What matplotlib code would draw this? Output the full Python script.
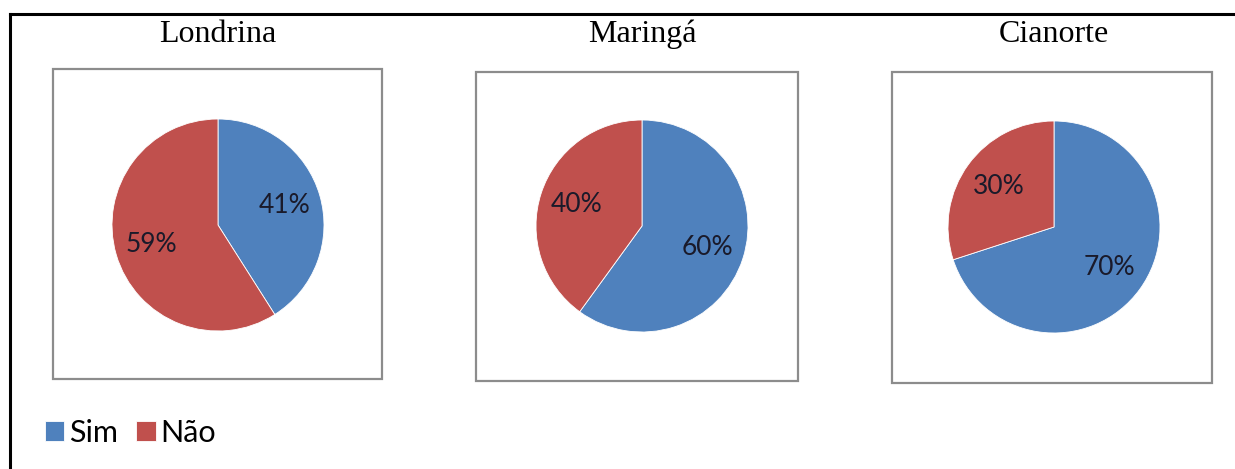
import matplotlib.pyplot as plt
from matplotlib.patches import Rectangle
from matplotlib.lines import Line2D

# dados
cidades = ['Londrina', 'Maringá', 'Cianorte']
rotulos = ['Sim', 'Não']
sim = [41, 60, 70]
nao = [59, 40, 30]
cores = ['#4F81BD', '#C0504D']

W, H = 1235, 469
fig = plt.figure(figsize=(W / 100, H / 100), dpi=100)
fig.patch.set_facecolor('white')

def fx(x):
    return x / W

def fy(y):
    return 1 - y / H

# moldura preta (esquerda e topo)
fig.add_artist(Line2D([fx(10), fx(10)], [fy(14), 0], color='black', lw=2.2, transform=fig.transFigure))
fig.add_artist(Line2D([fx(10), 1], [fy(14), fy(14)], color='black', lw=2.2, transform=fig.transFigure))

# caixas cinzas e centro dos graficos (px)
caixas = [(53, 69, 382, 379), (476, 72, 798, 381), (892, 72, 1212, 383)]
centros = [(218, 225), (642, 226), (1054, 227)]
raio = 106

fatias = None
for i, cidade in enumerate(cidades):
    x0, y0, x1, y1 = caixas[i]
    fig.add_artist(Rectangle((fx(x0), fy(y1)), fx(x1 - x0), (y1 - y0) / H,
                             transform=fig.transFigure, fill=False,
                             edgecolor='#8c8c8c', lw=1.6))
    cx, cy = centros[i]
    ax = fig.add_axes([fx(cx - raio), fy(cy + raio), fx(2 * raio), 2 * raio / H])
    fatias, _, textos = ax.pie([sim[i], nao[i]], colors=cores, startangle=90,
                               counterclock=False, autopct=lambda p: f'{p:.0f}%',
                               pctdistance=0.65,
                               wedgeprops=dict(edgecolor='white', linewidth=0.6),
                               textprops=dict(fontsize=19, color='#1a1a2a', family='Lato'))
    ax.set_xlim(-1, 1)
    ax.set_ylim(-1, 1)
    ax.axis('off')
    fig.text(fx(cx), fy(34), cidade, ha='center', va='center',
             fontsize=23, family='Liberation Serif')

fig.legend(fatias, rotulos, loc='center left', bbox_to_anchor=(fx(17), fy(433)),
           ncol=2, frameon=False, prop=dict(family='Lato', size=22),
           handlelength=0.65, handleheight=0.65, handletextpad=0.15, columnspacing=0.6)

fig.savefig('out.png', dpi=100)
